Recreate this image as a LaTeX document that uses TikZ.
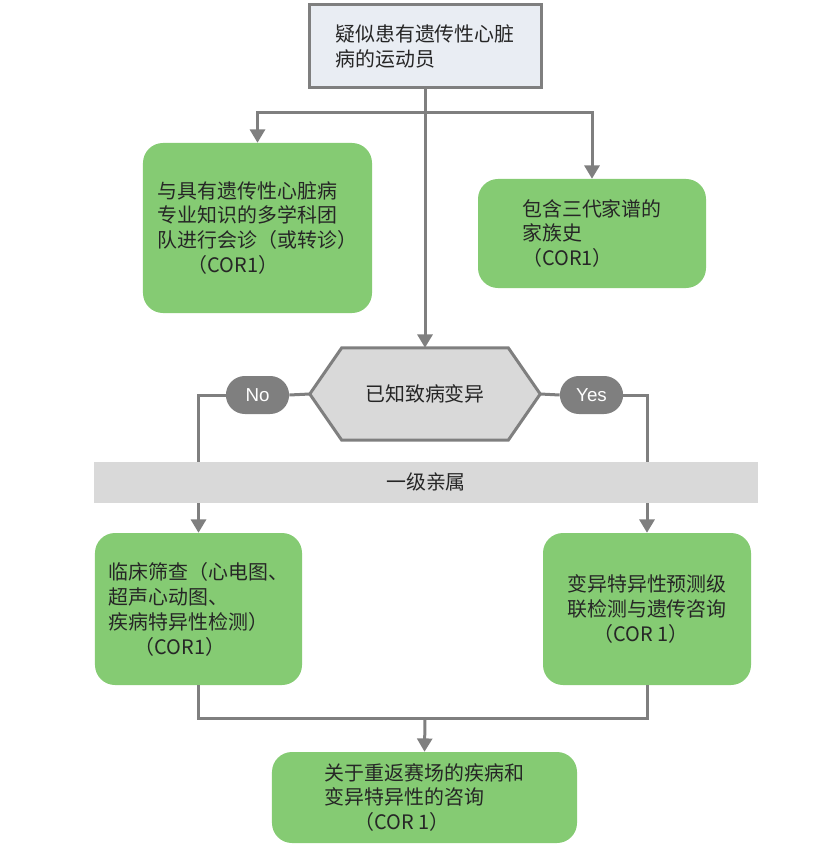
\documentclass[tikz,border=0pt]{standalone}
\usepackage{fontspec}
\setmainfont{Noto Sans CJK SC}
\newfontfamily\latinfont{Liberation Sans}
\usetikzlibrary{arrows.meta,shapes.misc,backgrounds}

\definecolor{boxgreen}{HTML}{85CB73}
\definecolor{linegray}{HTML}{7F7F7F}
\definecolor{topfill}{HTML}{E9EDF3}
\definecolor{hexfill}{HTML}{D9D9D9}
\definecolor{textdark}{HTML}{262626}

\begin{document}
\begin{tikzpicture}[x=0.03cm, y=-0.03cm,
        line/.style={draw=linegray, line width=0.09cm},
        arr/.style={line, -{Triangle[width=0.45cm,length=0.4cm]}},
        cjk/.style={text=textdark, font=\fontsize{17pt}{21.3pt}\selectfont},
        greenbox/.style={cjk, fill=boxgreen, rounded corners=0.6cm, align=left},
        pill/.style={rounded rectangle, fill=linegray, text=white,
            minimum width=2.13cm, minimum height=1.14cm, font=\latinfont\fontsize{16pt}{19pt}\selectfont}]
    \useasboundingbox (0,0) rectangle (832,852);

    \node[cjk, fill=topfill, draw=linegray, line width=0.09cm, align=left,
        minimum width=6.96cm, minimum height=2.49cm] (top) at (425,46.5)
        {疑似患有遗传性心脏\\病的运动员};

    \node[greenbox, minimum width=6.87cm, minimum height=5.1cm] (lb) at (257.5,228)
        {与具有遗传性心脏病\\专业知识的多学科团\\队进行会诊（或转诊）\\\hspace*{1.5em}（COR1）};
    \node[greenbox, minimum width=6.84cm, minimum height=3.27cm] (rb) at (592,233.5)
        {包含三代家谱的\\家族史\\（COR1）};

    % hexagon: node gives the anchors, outline goes behind it
    \node[cjk, minimum width=6.9cm, minimum height=2.76cm] (hex) at (425,394) {已知致病变异};
    \begin{scope}[on background layer]
        \draw[line, fill=hexfill] (hex.west) -- ([xshift=0.96cm]hex.north west) -- ([xshift=-0.96cm]hex.north east)
            -- (hex.east) -- ([xshift=-0.96cm]hex.south east) -- ([xshift=0.96cm]hex.south west) -- cycle;
    \end{scope}

    \node[pill] (no) at (257.5,395) {No};
    \node[pill] (yes) at (591.5,395) {Yes};

    \node[greenbox, minimum width=6.21cm, minimum height=4.56cm] (ll) at (198.5,609)
        {临床筛查（心电图、\\超声心动图、\\疾病特异性检测）\\\hspace*{1.3em}（COR1）};
    \node[greenbox, minimum width=6.24cm, minimum height=4.56cm] (lr) at (647,609)
        {变异特异性预测级\\联检测与遗传咨询\\\hspace*{1.3em}（COR 1）};

    \node[greenbox, minimum width=9.15cm, minimum height=2.73cm] (bb) at (424.5,797.5)
        {关于重返赛场的疾病和\\变异特异性的咨询\\\hspace*{1.5em}（COR 1）};

    \coordinate (split) at (425,113);
    \coordinate (join) at (425,718);

    \draw[arr] (top) -- (hex);
    \draw[arr] (split) -| (lb.north);
    \draw[arr] (split) -| (rb.north);

    \draw[line] (hex.west) -- (no.east);
    \draw[arr] (no.west) -| (ll.north);
    \draw[line] (hex.east) -- (yes.west);
    \draw[arr] (yes.east) -| (lr.north);

    \draw[line] (ll.south) |- (join) -| (lr.south);
    \draw[arr] (join) -- (bb.north);

    \node[cjk, fill=hexfill, minimum width=19.89cm, minimum height=1.23cm] (band) at (426,482) {一级亲属};
\end{tikzpicture}
\end{document}
